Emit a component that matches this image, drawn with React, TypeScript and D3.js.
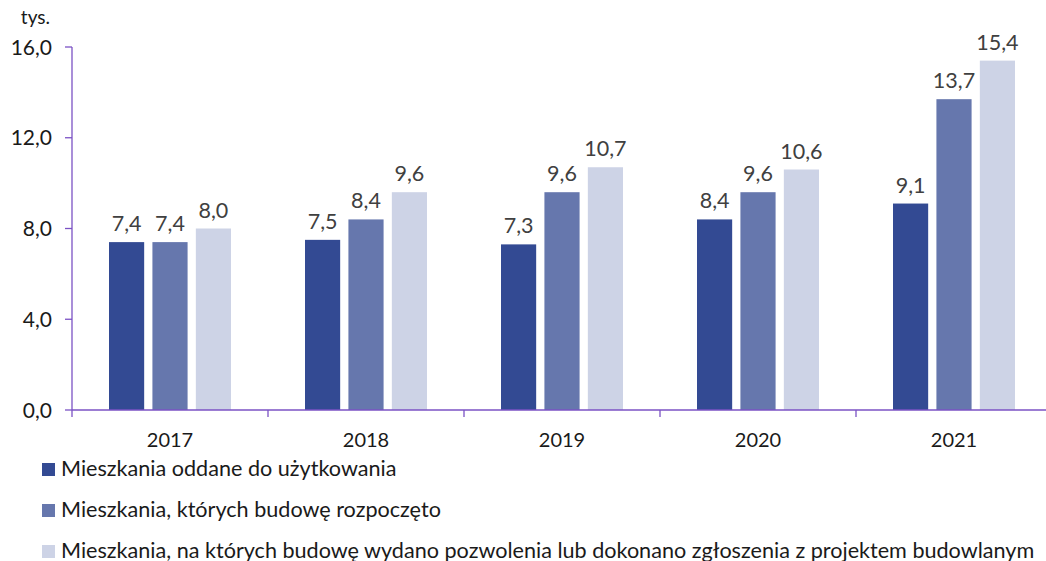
import React, { useEffect, useRef } from "react";
import * as d3 from "d3";

const years = ["2017", "2018", "2019", "2020", "2021"];
const oddane = [7.4, 7.5, 7.3, 8.4, 9.1];
const rozpoczete = [7.4, 8.4, 9.6, 9.6, 13.7];
const pozwolenia = [8.0, 9.6, 10.7, 10.6, 15.4];
const yTicks = [0, 4, 8, 12, 16];
const seriesNames = [
  "Mieszkania oddane do użytkowania",
  "Mieszkania, których budowę rozpoczęto",
  "Mieszkania, na których budowę wydano pozwolenia lub dokonano zgłoszenia z projektem budowlanym",
];
const colors = ["#334a93", "#6677ad", "#cdd3e6"];

const fmt = (v: number) => v.toFixed(1).replace(".", ",");

export default function App() {
  const ref = useRef<SVGSVGElement>(null);

  useEffect(() => {
    const svg = d3.select(ref.current);
    svg.selectAll("*").remove();

    const font = "Lato, 'Open Sans', sans-serif";
    const axisColor = "#7b52c4";
    const left = 72;
    const right = 1052;
    const top = 47;
    const bottom = 410;

    const x = d3.scaleBand().domain(years).range([left, right]);
    const inner = d3
      .scaleBand()
      .domain(["0", "1", "2"])
      .range([0, 122])
      .paddingInner(0.19);
    const y = d3.scaleLinear().domain([0, 16]).range([bottom, top]);

    const series = [oddane, rozpoczete, pozwolenia];
    const barX = (i: number, si: number) =>
      x(years[i])! + (x.bandwidth() - 122) / 2 + inner(String(si))!;

    // BARS
    series.forEach((vals, si) => {
      const g = svg.append("g");
      g.selectAll("rect")
        .data(vals)
        .enter()
        .append("rect")
        .attr("x", (d, i) => barX(i, si))
        .attr("y", d => y(d))
        .attr("width", inner.bandwidth())
        .attr("height", d => bottom - y(d))
        .attr("fill", colors[si]);

      g.selectAll("text")
        .data(vals)
        .enter()
        .append("text")
        .attr("x", (d, i) => barX(i, si) + inner.bandwidth() / 2)
        .attr("y", d => y(d) - 11)
        .attr("text-anchor", "middle")
        .attr("font-family", font)
        .attr("font-size", "21.5px")
        .attr("fill", "#404040")
        .text(d => fmt(d));
    });

    // Y AXIS
    svg.append("line")
      .attr("x1", left).attr("x2", left)
      .attr("y1", top).attr("y2", bottom)
      .attr("stroke", axisColor).attr("stroke-width", 1.3);

    yTicks.forEach(t => {
      svg.append("line")
        .attr("x1", left - 7).attr("x2", left)
        .attr("y1", y(t)).attr("y2", y(t))
        .attr("stroke", axisColor).attr("stroke-width", 1.3);
      svg.append("text")
        .attr("x", 52)
        .attr("y", y(t) + 7.5)
        .attr("text-anchor", "end")
        .attr("font-family", font)
        .attr("font-size", "21px")
        .attr("fill", "#1a1a1a")
        .text(fmt(t));
    });

    svg.append("text")
      .attr("x", 50).attr("y", 24)
      .attr("text-anchor", "end")
      .attr("font-family", font)
      .attr("font-size", "19px")
      .attr("fill", "#1a1a1a")
      .text("tys.");

    // X AXIS
    svg.append("line")
      .attr("x1", left).attr("x2", right)
      .attr("y1", bottom).attr("y2", bottom)
      .attr("stroke", axisColor).attr("stroke-width", 1.3);

    years.forEach(yr => {
      svg.append("line")
        .attr("x1", x(yr)!).attr("x2", x(yr)!)
        .attr("y1", bottom).attr("y2", bottom + 7)
        .attr("stroke", axisColor).attr("stroke-width", 1.3);
      svg.append("text")
        .attr("x", x(yr)! + x.bandwidth() / 2)
        .attr("y", 447)
        .attr("text-anchor", "middle")
        .attr("font-family", font)
        .attr("font-size", "20px")
        .attr("fill", "#1a1a1a")
        .text(yr);
    });

    // LEGEND
    seriesNames.forEach((name, i) => {
      const cy = 469 + i * 41;
      svg.append("rect")
        .attr("x", 42).attr("y", cy - 6)
        .attr("width", 13).attr("height", 13)
        .attr("fill", colors[i]);
      svg.append("text")
        .attr("x", 61).attr("y", cy + 6.5)
        .attr("font-family", font)
        .attr("font-size", "21.6px")
        .attr("fill", "#1a1a1a")
        .text(name);
    });
  }, []);

  return (
    <svg
      ref={ref}
      width={1046}
      height={561}
      style={{ position: "absolute", left: 0, top: 0, background: "#fff" }}
    />
  );
}
